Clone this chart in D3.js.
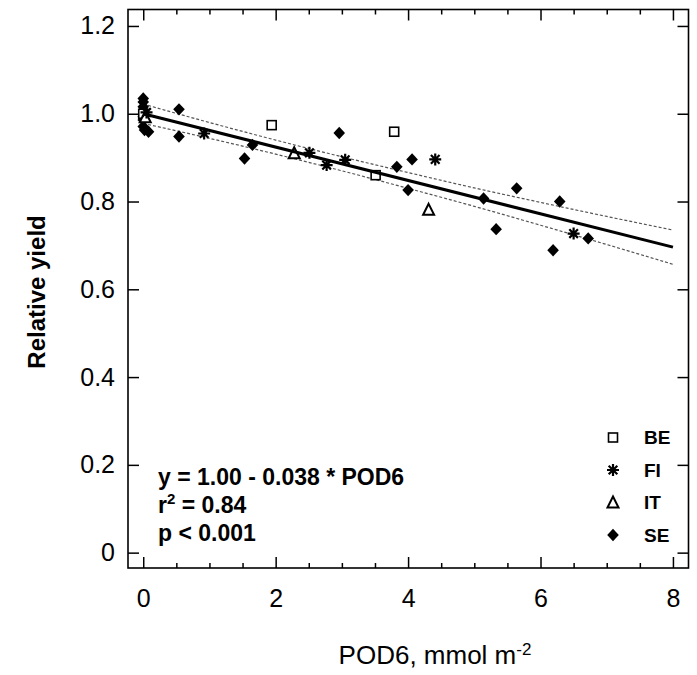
<!DOCTYPE html>
<html>
<head>
<meta charset="utf-8">
<script src="https://cdn.jsdelivr.net/npm/d3@7"></script>
<style>
  body { margin: 0; background: #fff; }
  text { font-family: "Liberation Sans", Arial, sans-serif; fill: #000; }
</style>
</head>
<body>
<script>
var be = [[0, 1.0], [1.94, 0.974], [3.51, 0.860], [3.79, 0.959]];
var fi = [[0.05, 1.003], [0.92, 0.955], [2.51, 0.911], [2.77, 0.883], [3.05, 0.895], [4.41, 0.896], [6.50, 0.727]];
var it = [[0.03, 0.992], [2.28, 0.910], [4.31, 0.781]];
var se = [[0, 1.035], [0, 1.027], [0, 1.016], [0, 0.993], [0, 0.986], [0, 0.971], [0.02, 0.963], [0.08, 0.959],
          [0.54, 1.010], [0.54, 0.948], [1.53, 0.898], [1.65, 0.929], [2.96, 0.956], [3.83, 0.879], [4.00, 0.826],
          [4.06, 0.896], [5.14, 0.807], [5.33, 0.737], [5.64, 0.830], [6.19, 0.689], [6.29, 0.800], [6.72, 0.716]];

// regression y = 1.00 - 0.038 * POD6 and its confidence band
var fitX = [0, 8];
var fitY = [1.00, 0.696];
var bandX = [0, 1, 2, 3, 4, 5, 6, 7, 8];
var bandUpper = [1.022, 0.980, 0.940, 0.902, 0.866, 0.831, 0.798, 0.766, 0.735];
var bandLower = [0.978, 0.944, 0.908, 0.870, 0.830, 0.789, 0.746, 0.702, 0.657];

var xTicks = [0, 2, 4, 6, 8];
var xMinor = [0.5, 1, 1.5, 2.5, 3, 3.5, 4.5, 5, 5.5, 6.5, 7, 7.5];
var yTicks = [0, 0.2, 0.4, 0.6, 0.8, 1.0, 1.2];
var legendNames = ["BE", "FI", "IT", "SE"];

var W = 697, H = 675;
var frame = {left: 128, right: 688.5, top: 9.5, bottom: 568};

var x = d3.scaleLinear().domain([-0.23, 8.235]).range([frame.left, frame.right]);
var y = d3.scaleLinear().domain([-0.035, 1.2375]).range([frame.bottom, frame.top]);

var svg = d3.select("body").append("svg")
    .attr("width", W)
    .attr("height", H);

// symbols
function square(g) {
  g.append("rect").attr("x", -4.5).attr("y", -4.5).attr("width", 9).attr("height", 9)
    .attr("fill", "#fff").attr("stroke", "#000").attr("stroke-width", 1.6);
}
function star(g) {
  var r = 6;
  g.append("path")
    .attr("d", "M0," + (-r) + "V" + r + "M" + (-r) + ",0H" + r +
      "M" + (-r * 0.72) + "," + (-r * 0.72) + "L" + (r * 0.72) + "," + (r * 0.72) +
      "M" + (-r * 0.72) + "," + (r * 0.72) + "L" + (r * 0.72) + "," + (-r * 0.72))
    .attr("stroke", "#000").attr("stroke-width", 2.2).attr("fill", "none");
}
function triangle(g) {
  g.append("path").attr("d", "M0,-6L5.5,5L-5.5,5Z")
    .attr("fill", "#fff").attr("stroke", "#000").attr("stroke-width", 2);
}
function diamond(g) {
  g.append("path").attr("d", "M0,-6.2L5.8,0L0,6.2L-5.8,0Z").attr("fill", "#000");
}
var drawers = {BE: square, FI: star, IT: triangle, SE: diamond};

// confidence band
var bandLine = d3.line().curve(d3.curveMonotoneX);
[bandUpper, bandLower].forEach(function(b) {
  svg.append("path")
    .attr("d", bandLine(bandX.map(function(v, i) { return [x(v), y(b[i])]; })))
    .attr("fill", "none")
    .attr("stroke", "#555")
    .attr("stroke-width", 1.2)
    .attr("stroke-dasharray", "3,2");
});

// points
var groups = [["SE", se], ["BE", be], ["IT", it], ["FI", fi]];
groups.forEach(function(gr) {
  var sel = svg.selectAll(".p" + gr[0])
    .data(gr[1])
    .enter().append("g")
    .attr("class", "p" + gr[0])
    .attr("transform", function(d) { return "translate(" + x(d[0]) + "," + y(d[1]) + ")"; });
  sel.each(function() { drawers[gr[0]](d3.select(this)); });
});

// fit line
svg.append("line")
  .attr("x1", x(fitX[0])).attr("y1", y(fitY[0]))
  .attr("x2", x(fitX[1])).attr("y2", y(fitY[1]))
  .attr("stroke", "#000")
  .attr("stroke-width", 3);

// frame
svg.append("rect")
  .attr("x", frame.left).attr("y", frame.top)
  .attr("width", frame.right - frame.left).attr("height", frame.bottom - frame.top)
  .attr("fill", "none").attr("stroke", "#000").attr("stroke-width", 1.6);

// axes, ticks pointing inward
function styleAxis(g) {
  g.select(".domain").remove();
  g.selectAll(".tick line").attr("stroke", "#000").attr("stroke-width", 1.5);
  g.selectAll("text").style("font-size", "25px").attr("fill", "#000");
}
svg.append("g").attr("transform", "translate(0," + frame.bottom + ")")
  .call(d3.axisBottom(x).tickValues(xTicks).tickFormat(d3.format("d")).tickSize(-11).tickPadding(21))
  .call(styleAxis);
svg.append("g").attr("transform", "translate(0," + frame.bottom + ")")
  .call(d3.axisBottom(x).tickValues(xMinor).tickFormat("").tickSize(-5))
  .call(styleAxis);
svg.append("g").attr("transform", "translate(0," + frame.top + ")")
  .call(d3.axisTop(x).tickValues(xTicks).tickFormat("").tickSize(-11))
  .call(styleAxis);
svg.append("g").attr("transform", "translate(0," + frame.top + ")")
  .call(d3.axisTop(x).tickValues(xMinor).tickFormat("").tickSize(-5))
  .call(styleAxis);
svg.append("g").attr("transform", "translate(" + frame.left + ",0)")
  .call(d3.axisLeft(y).tickValues(yTicks)
    .tickFormat(function(d) { return d === 0 ? "0" : d3.format(".1f")(d); })
    .tickSize(-11).tickPadding(13))
  .call(styleAxis);
svg.append("g").attr("transform", "translate(" + frame.right + ",0)")
  .call(d3.axisRight(y).tickValues(yTicks).tickFormat("").tickSize(-11))
  .call(styleAxis);

// axis titles
svg.append("text")
  .attr("transform", "translate(45,292) rotate(-90)")
  .attr("text-anchor", "middle")
  .style("font-size", "24px")
  .style("font-weight", "bold")
  .text("Relative yield");

var xt = svg.append("text")
  .attr("x", 435).attr("y", 664)
  .attr("text-anchor", "middle")
  .style("font-size", "26px");
xt.append("tspan").text("POD6, mmol m");
xt.append("tspan").attr("dy", -9).style("font-size", "17px").text("-2");

// regression text
var ann = svg.append("g").style("font-size", "23px").style("font-weight", "bold");
ann.append("text").attr("x", 158).attr("y", 485).text("y = 1.00 - 0.038 * POD6");
var r2 = ann.append("text").attr("x", 158).attr("y", 513);
r2.append("tspan").text("r");
r2.append("tspan").attr("dy", -9).style("font-size", "15px").text("2");
r2.append("tspan").attr("dy", 9).text(" = 0.84");
ann.append("text").attr("x", 158).attr("y", 541).text("p < 0.001");

// legend
var legY = d3.scalePoint().domain(legendNames).range([437.5, 535]);
var leg = svg.selectAll(".leg")
  .data(legendNames)
  .enter().append("g")
  .attr("class", "leg")
  .attr("transform", function(d) { return "translate(613," + legY(d) + ")"; });
leg.each(function(d) { drawers[d](d3.select(this)); });
leg.append("text")
  .attr("x", 31).attr("dy", "0.36em")
  .style("font-size", "19px").style("font-weight", "bold")
  .text(function(d) { return d; });
</script>
</body>
</html>
